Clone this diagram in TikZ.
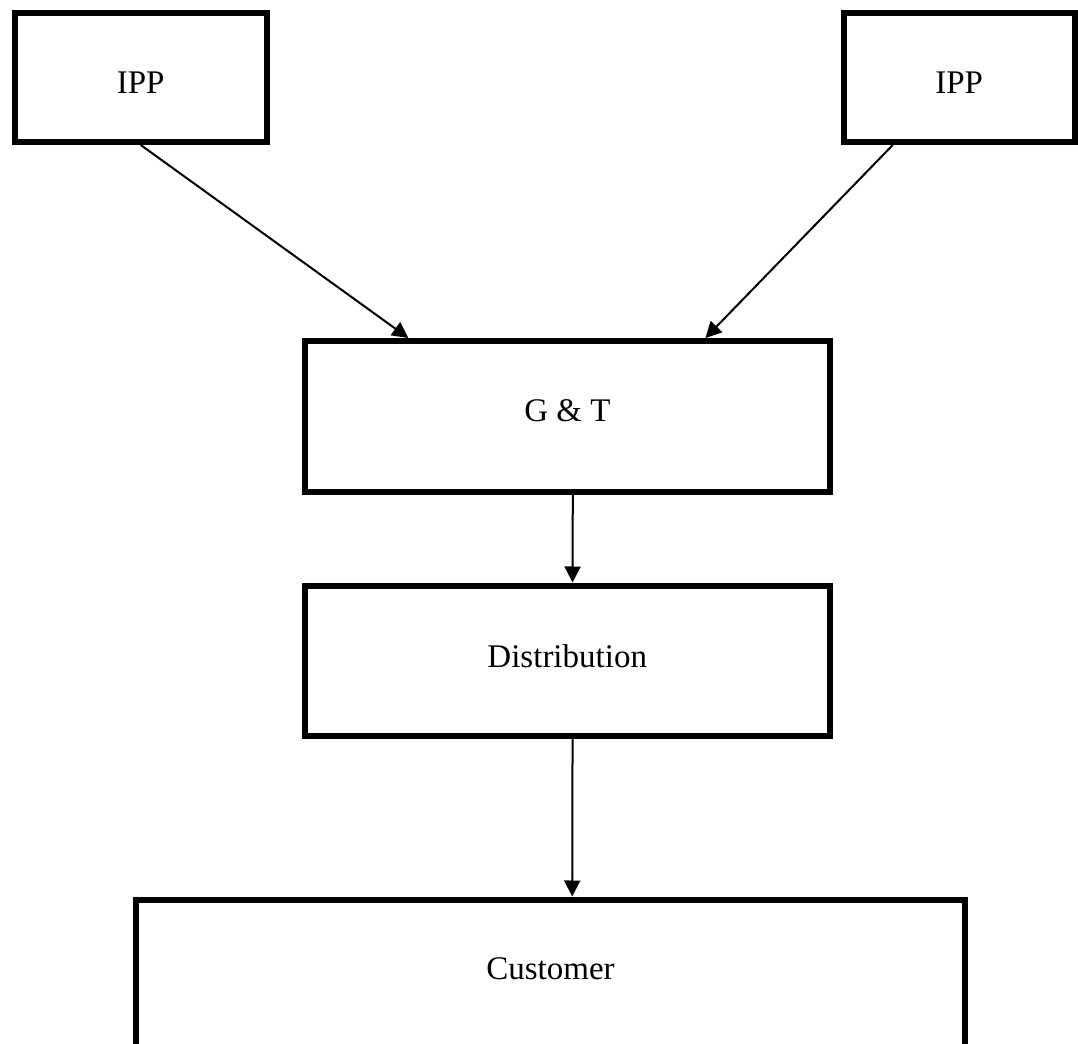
\documentclass[tikz,border=0pt]{standalone}
\usepackage{fontspec}
\setmainfont{Liberation Serif}
\usepackage{tikz}
\usetikzlibrary{arrows.meta,calc}
\tikzset{blk/.style={draw,rectangle,line width=3pt,inner sep=0pt},
  flow/.style={line width=1pt,-{Triangle[length=8pt,width=8pt]}}}

\begin{document}
\begin{tikzpicture}[x=0.5pt,y=-0.5pt,font=\fontsize{16.5}{20}\selectfont]
\useasboundingbox (0,0) rectangle (1078,1044);
\node (ippL) at (140.75,77.5) [blk,minimum width=126.25pt,minimum height=64.5pt,text height=16pt,text depth=0pt] {IPP};
\node (ippR) at (959.25,77.5) [blk,minimum width=115.75pt,minimum height=64.5pt,text height=16pt,text depth=0pt] {IPP};
\node (gt) at (567.5,416.25) [blk,minimum width=262.25pt,minimum height=75.25pt,text height=11pt,text depth=6pt] {G \& T};
\node (dist) at (567.25,660.75) [blk,minimum width=262.25pt,minimum height=75.25pt,text height=11pt,text depth=4pt] {Distribution};
\node (cust) at (550.5,896.5) [blk,anchor=north,minimum width=414.5pt,text height=40pt,text depth=60pt] {Customer};
\draw[flow] (ippL.south) -- ($(gt.north west)!0.2!(gt.north east)$);
\draw[flow] ($(ippR.south west)!0.22!(ippR.south east)$) -- ($(gt.north west)!0.76!(gt.north east)$);
\draw[flow] ($(gt.south west)!0.51!(gt.south east)$) -- ($(dist.north west)!0.51!(dist.north east)$);
\draw[flow] ($(dist.south west)!0.51!(dist.south east)$) -- ($(cust.north west)!0.526!(cust.north east)$);
\end{tikzpicture}
\end{document}
